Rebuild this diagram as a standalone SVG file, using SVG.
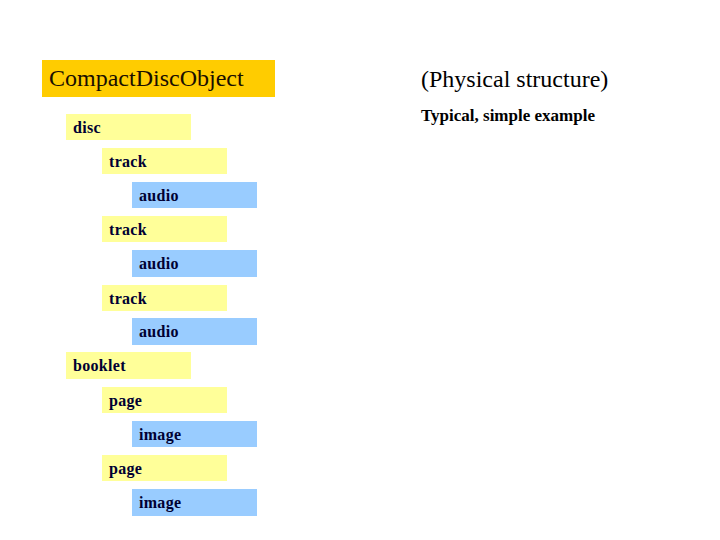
<svg xmlns="http://www.w3.org/2000/svg" width="720" height="540" viewBox="0 0 720 540">
<style>
.y{fill:#FFFF99}
.b{fill:#99CCFF}
.t{font-family:"Liberation Serif","Times New Roman",serif;font-size:16px;font-weight:bold;fill:#000033;letter-spacing:0.3px}
.h{font-family:"Liberation Serif","Times New Roman",serif;font-size:24px;fill:#1a0f00}
</style>
<rect width="720" height="540" fill="#fff"/>
<g id="root"><rect x="42" y="60" width="233" height="37" fill="#FFCC00"/><text class="h" x="49" y="86">CompactDiscObject</text></g>
<g id="disc"><rect class="y" x="66" y="114" width="125" height="26"/><text class="t" x="73" y="133">disc</text></g>
<g id="track1"><rect class="y" x="102" y="148" width="125" height="26"/><text class="t" x="109" y="167">track</text></g>
<g id="audio1"><rect class="b" x="132" y="182" width="125" height="26"/><text class="t" x="139" y="201">audio</text></g>
<g id="track2"><rect class="y" x="102" y="216" width="125" height="26"/><text class="t" x="109" y="235">track</text></g>
<g id="audio2"><rect class="b" x="132" y="250" width="125" height="27"/><text class="t" x="139" y="269">audio</text></g>
<g id="track3"><rect class="y" x="102" y="285" width="125" height="26"/><text class="t" x="109" y="304">track</text></g>
<g id="audio3"><rect class="b" x="132" y="318" width="125" height="27"/><text class="t" x="139" y="337">audio</text></g>
<g id="booklet"><rect class="y" x="66" y="352" width="125" height="27"/><text class="t" x="73" y="371">booklet</text></g>
<g id="page1"><rect class="y" x="102" y="387" width="125" height="26"/><text class="t" x="109" y="406">page</text></g>
<g id="image1"><rect class="b" x="132" y="421" width="125" height="26"/><text class="t" x="139" y="440">image</text></g>
<g id="page2"><rect class="y" x="102" y="455" width="125" height="26"/><text class="t" x="109" y="474">page</text></g>
<g id="image2"><rect class="b" x="132" y="489" width="125" height="27"/><text class="t" x="139" y="508">image</text></g>
<g id="connectors"></g>
<text x="421" y="87" font-family="'Liberation Serif','Times New Roman',serif" font-size="24" fill="#000">(Physical structure)</text>
<text x="421" y="121" font-family="'Liberation Serif','Times New Roman',serif" font-size="17" font-weight="bold" fill="#000">Typical, simple example</text>
</svg>
